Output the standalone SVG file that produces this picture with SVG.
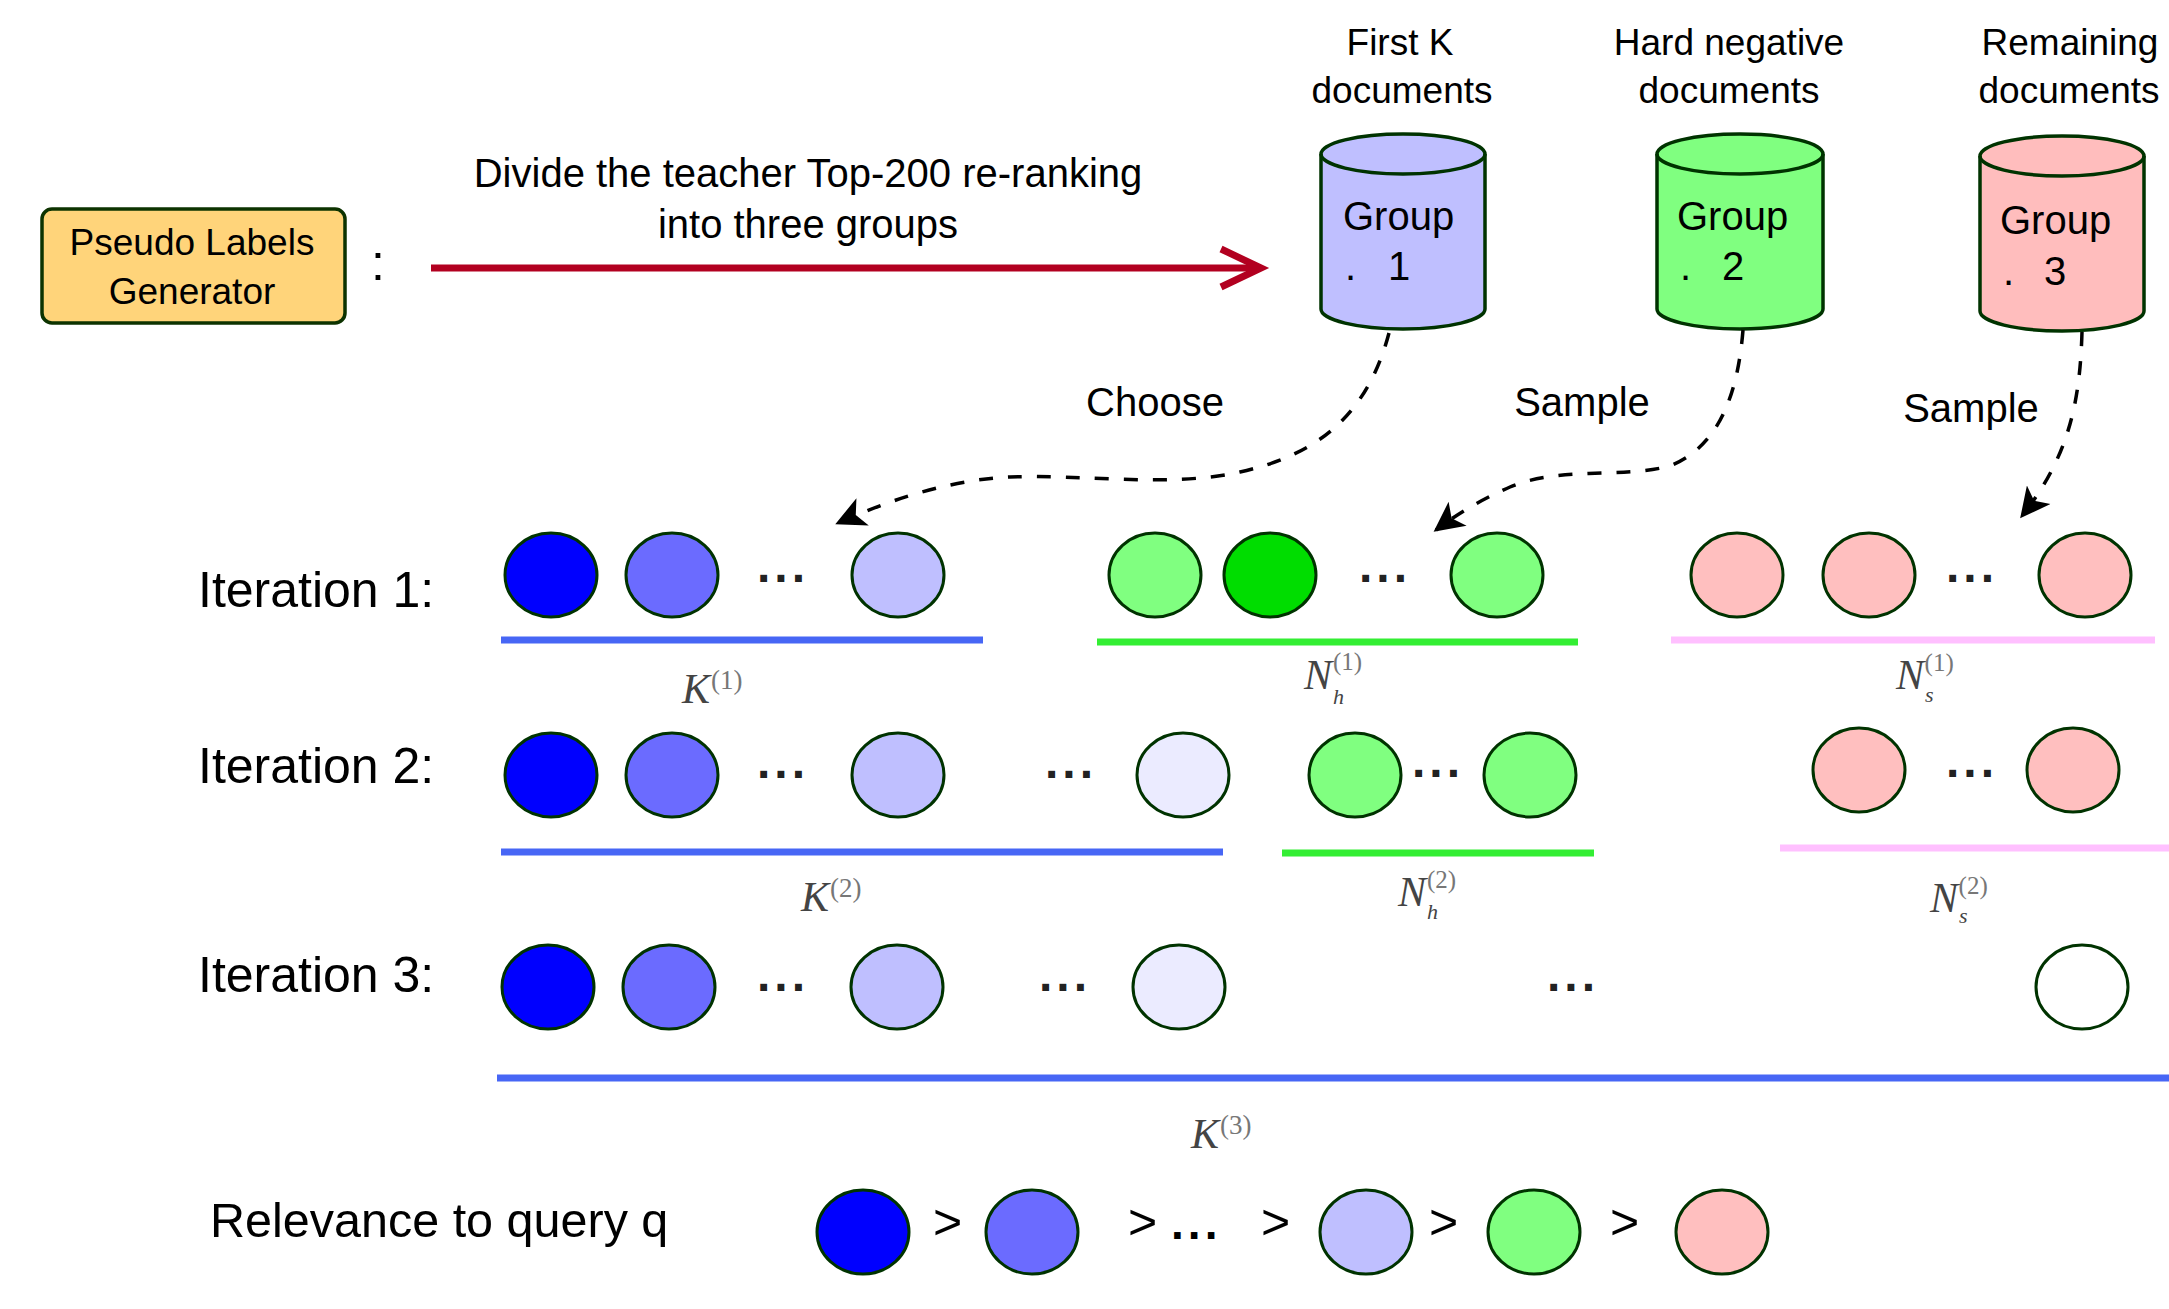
<svg xmlns="http://www.w3.org/2000/svg" width="2169" height="1309" viewBox="0 0 2169 1309">
<defs>
<style>
.t{font-family:"Liberation Sans",Arial,Helvetica,sans-serif;fill:#000}
.m{font-family:"Liberation Serif","Times New Roman",serif;font-style:italic;fill:#444}
.ms{font-family:"Liberation Serif","Times New Roman",serif;font-style:normal;fill:#777}
.e{stroke:#003300;stroke-width:3}
.cyl{stroke:#003300;stroke-width:3.5}
.dots{font-family:"Liberation Sans",Arial,sans-serif;font-weight:bold;font-size:48px;letter-spacing:4px;fill:#222}
.dash{fill:none;stroke:#000;stroke-width:3.5;stroke-dasharray:14 15}
.ub{stroke:#4766F5;stroke-width:7}
.ug{stroke:#33EE33;stroke-width:7}
.up{stroke:#FFC0FF;stroke-width:7}
.b0{fill:#0000FF}.b1{fill:#6B6BFF}.b2{fill:#BFBFFF}.b3{fill:#EBEBFF}.w{fill:#FFFFFF}
.g1{fill:#80FF80}.g2{fill:#00DD00}.p1{fill:#FFBFBF}
</style>
<marker id="ah" viewBox="0 0 10 10" refX="9" refY="5" markerWidth="38" markerHeight="30" markerUnits="userSpaceOnUse" orient="auto">
<path d="M0,0 L10,5 L0,10 L2.5,5 Z" fill="#000"/>
</marker>
</defs>
<rect width="2169" height="1309" fill="#FFFFFF"/>

<g id="pseudo-labels-generator">
<rect x="42" y="209" width="303" height="114" rx="10" fill="#FFD47A" stroke="#0D3300" stroke-width="3.5"/>
<text class="t" x="192" y="255" font-size="37" text-anchor="middle">Pseudo Labels</text>
<text class="t" x="192" y="304" font-size="37" text-anchor="middle">Generator</text>
</g>
<text class="t" x="371" y="280" font-size="50">:</text>

<g id="divide-label">
<text class="t" x="808" y="187" font-size="40" text-anchor="middle">Divide the teacher Top-200 re-ranking</text>
<text class="t" x="808" y="238" font-size="40" text-anchor="middle">into three groups</text>
</g>

<g id="headers">
<text class="t" x="1400" y="55" font-size="37" text-anchor="middle">First K</text>
<text class="t" x="1402" y="103" font-size="37" text-anchor="middle">documents</text>
<text class="t" x="1729" y="55" font-size="37" text-anchor="middle">Hard negative</text>
<text class="t" x="1729" y="103" font-size="37" text-anchor="middle">documents</text>
<text class="t" x="2070" y="55" font-size="37" text-anchor="middle">Remaining</text>
<text class="t" x="2069" y="103" font-size="37" text-anchor="middle">documents</text>
</g>

<g id="group1">
<path class="cyl" fill="#BFBFFF" d="M1321,154 A82,20 0 0 1 1485,154 L1485,309 A82,20 0 0 1 1321,309 Z"/>
<path class="cyl" fill="none" d="M1321,154 A82,20 0 0 0 1485,154"/>
<text class="t" x="1343" y="230" font-size="40">Group</text>
<text class="t" y="280" font-size="40"><tspan x="1345">.</tspan><tspan x="1388">1</tspan></text>
</g>
<g id="group2">
<path class="cyl" fill="#80FF80" d="M1657,154 A83,20 0 0 1 1823,154 L1823,309 A83,20 0 0 1 1657,309 Z"/>
<path class="cyl" fill="none" d="M1657,154 A83,20 0 0 0 1823,154"/>
<text class="t" x="1677" y="230" font-size="40">Group</text>
<text class="t" y="280" font-size="40"><tspan x="1680">.</tspan><tspan x="1722">2</tspan></text>
</g>
<g id="group3">
<path class="cyl" fill="#FFBDBD" d="M1980,156 A82,20 0 0 1 2144,156 L2144,311 A82,20 0 0 1 1980,311 Z"/>
<path class="cyl" fill="none" d="M1980,156 A82,20 0 0 0 2144,156"/>
<text class="t" x="2000" y="234" font-size="40">Group</text>
<text class="t" y="285" font-size="40"><tspan x="2003">.</tspan><tspan x="2044">3</tspan></text>
</g>

<g id="connectors">
<path d="M431,268 L1258,268" fill="none" stroke="#B20020" stroke-width="7"/>
<polyline points="1221,249 1261,268 1221,287" fill="none" stroke="#B20020" stroke-width="7" stroke-linejoin="miter"/>
<path class="dash" marker-end="url(#ah)" d="M1389,333 C1366,420 1312,456 1240,472 C1170,488 1080,474 1010,477 C960,479 900,495 838,523"/>
<path class="dash" marker-end="url(#ah)" d="M1743,330 C1738,392 1720,446 1670,466 C1620,479 1560,466 1510,487 C1480,500 1456,515 1436,530"/>
<path class="dash" marker-end="url(#ah)" d="M2082,332 C2080,400 2070,455 2022,516"/>
</g>

<g id="arrow-labels">
<text class="t" x="1155" y="416" font-size="40" text-anchor="middle">Choose</text>
<text class="t" x="1582" y="416" font-size="40" text-anchor="middle">Sample</text>
<text class="t" x="1971" y="422" font-size="40" text-anchor="middle">Sample</text>
</g>

<g id="iteration1">
<text class="t" x="198" y="607" font-size="50">Iteration 1:</text>
<ellipse class="e b0" cx="551" cy="575" rx="46" ry="42"/>
<ellipse class="e b1" cx="672" cy="575" rx="46" ry="42"/>
<text class="dots" x="757" y="582">...</text>
<ellipse class="e b2" cx="898" cy="575" rx="46" ry="42"/>
<ellipse class="e g1" cx="1155" cy="575" rx="46" ry="42"/>
<ellipse class="e g2" cx="1270" cy="575" rx="46" ry="42"/>
<text class="dots" x="1359" y="582">...</text>
<ellipse class="e g1" cx="1497" cy="575" rx="46" ry="42"/>
<ellipse class="e p1" cx="1737" cy="575" rx="46" ry="42"/>
<ellipse class="e p1" cx="1869" cy="575" rx="46" ry="42"/>
<text class="dots" x="1946" y="582">...</text>
<ellipse class="e p1" cx="2085" cy="575" rx="46" ry="42"/>
<line class="ub" x1="501" y1="640" x2="983" y2="640"/>
<line class="ug" x1="1097" y1="642" x2="1578" y2="642"/>
<line class="up" x1="1671" y1="640" x2="2155" y2="640"/>
<text class="m" x="682" y="703" font-size="42">K<tspan class="ms" font-size="27" dx="1" dy="-14">(1)</tspan></text>
<text class="m" x="1304" y="689" font-size="42">N<tspan font-size="22" dx="1" dy="15">h</tspan><tspan class="ms" font-size="25" dx="-11" dy="-34">(1)</tspan></text>
<text class="m" x="1896" y="689" font-size="42">N<tspan font-size="22" dx="1" dy="13">s</tspan><tspan class="ms" font-size="25" dx="-9" dy="-31">(1)</tspan></text>
</g>

<g id="iteration2">
<text class="t" x="198" y="783" font-size="50">Iteration 2:</text>
<ellipse class="e b0" cx="551" cy="775" rx="46" ry="42"/>
<ellipse class="e b1" cx="672" cy="775" rx="46" ry="42"/>
<text class="dots" x="757" y="778">...</text>
<ellipse class="e b2" cx="898" cy="775" rx="46" ry="42"/>
<text class="dots" x="1045" y="778">...</text>
<ellipse class="e b3" cx="1183" cy="775" rx="46" ry="42"/>
<ellipse class="e g1" cx="1355" cy="775" rx="46" ry="42"/>
<text class="dots" x="1412" y="777">...</text>
<ellipse class="e g1" cx="1530" cy="775" rx="46" ry="42"/>
<ellipse class="e p1" cx="1859" cy="770" rx="46" ry="42"/>
<text class="dots" x="1946" y="777">...</text>
<ellipse class="e p1" cx="2073" cy="770" rx="46" ry="42"/>
<line class="ub" x1="501" y1="852" x2="1223" y2="852"/>
<line class="ug" x1="1282" y1="853" x2="1594" y2="853"/>
<line class="up" x1="1780" y1="848" x2="2169" y2="848"/>
<text class="m" x="801" y="911" font-size="42">K<tspan class="ms" font-size="27" dx="1" dy="-14">(2)</tspan></text>
<text class="m" x="1398" y="906" font-size="42">N<tspan font-size="22" dx="1" dy="13">h</tspan><tspan class="ms" font-size="25" dx="-11" dy="-31">(2)</tspan></text>
<text class="m" x="1930" y="912" font-size="42">N<tspan font-size="22" dx="1" dy="11">s</tspan><tspan class="ms" font-size="25" dx="-9" dy="-29">(2)</tspan></text>
</g>

<g id="iteration3">
<text class="t" x="198" y="992" font-size="50">Iteration 3:</text>
<ellipse class="e b0" cx="548" cy="987" rx="46" ry="42"/>
<ellipse class="e b1" cx="669" cy="987" rx="46" ry="42"/>
<text class="dots" x="757" y="991">...</text>
<ellipse class="e b2" cx="897" cy="987" rx="46" ry="42"/>
<text class="dots" x="1039" y="991">...</text>
<ellipse class="e b3" cx="1179" cy="987" rx="46" ry="42"/>
<text class="dots" x="1547" y="991">...</text>
<ellipse class="e w" cx="2082" cy="987" rx="46" ry="42"/>
<line class="ub" x1="497" y1="1078" x2="2169" y2="1078"/>
<text class="m" x="1191" y="1148" font-size="42">K<tspan class="ms" font-size="27" dx="1" dy="-14">(3)</tspan></text>
</g>

<g id="relevance">
<text class="t" x="210" y="1237" font-size="48.5">Relevance to query q</text>
<ellipse class="e b0" cx="863" cy="1232" rx="46" ry="42"/>
<text class="t" x="933" y="1239" font-size="50">&gt;</text>
<ellipse class="e b1" cx="1032" cy="1232" rx="46" ry="42"/>
<text class="t" x="1128" y="1239" font-size="50">&gt; <tspan font-weight="bold" letter-spacing="4" font-size="46">...</tspan></text>
<text class="t" x="1261" y="1239" font-size="50">&gt;</text>
<ellipse class="e b2" cx="1366" cy="1232" rx="46" ry="42"/>
<text class="t" x="1429" y="1239" font-size="50">&gt;</text>
<ellipse class="e g1" cx="1534" cy="1232" rx="46" ry="42"/>
<text class="t" x="1610" y="1239" font-size="50">&gt;</text>
<ellipse class="e p1" cx="1722" cy="1232" rx="46" ry="42"/>
</g>
</svg>
